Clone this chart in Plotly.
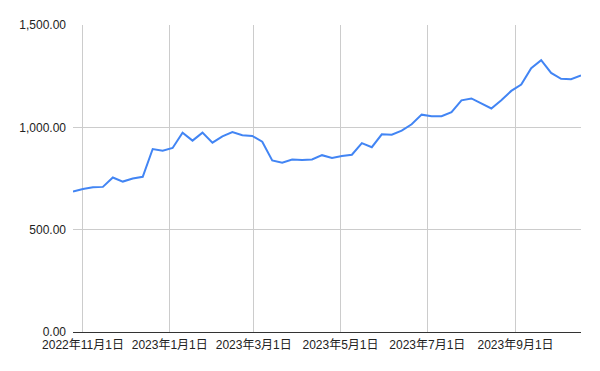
import datetime as dt
import plotly.graph_objects as go

start = dt.date(2022, 10, 25)
values = [686, 699, 707, 709, 755, 735, 750, 758, 894, 886,
          899, 974, 935, 974, 925, 956, 977, 961, 958, 930,
          838, 827, 843, 841, 843, 864, 850, 860, 866, 923,
          903, 966, 964, 984, 1015, 1062, 1054, 1054, 1074, 1132,
          1141, 1116, 1092, 1132, 1178, 1209, 1289, 1328, 1266, 1237,
          1235, 1253]
dates = [start + dt.timedelta(days=7 * i) for i in range(len(values))]

tick_dates = ["2022-11-01", "2023-01-01", "2023-03-01", "2023-05-01", "2023-07-01", "2023-09-01"]
tick_labels = ["2022年11月1日", "2023年1月1日", "2023年3月1日", "2023年5月1日", "2023年7月1日", "2023年9月1日"]
y_ticks = [0, 500, 1000, 1500]

fig = go.Figure(go.Scatter(x=dates, y=values, mode="lines",
                           line=dict(color="#4285F4", width=2)))

font_family = "Liberation Sans, Arial, Noto Sans CJK JP, sans-serif"
fig.update_layout(
    width=600, height=371,
    margin=dict(l=73, r=19, t=25, b=39),
    paper_bgcolor="white", plot_bgcolor="white",
    showlegend=False,
    font=dict(family=font_family, size=12, color="#222222"),
    xaxis=dict(
        range=[dates[0], dates[-1]],
        tickvals=tick_dates, ticktext=tick_labels,
        showgrid=True, gridcolor="#cccccc", gridwidth=1,
        showline=False, zeroline=False, ticks="",
        ticklabelstandoff=4,
        tickfont=dict(family="Liberation Sans, Noto Sans CJK JP, sans-serif", size=12, color="#222222"),
    ),
    yaxis=dict(
        range=[0, 1500],
        tickvals=y_ticks, tickformat=",.2f",
        showgrid=True, gridcolor="#cccccc", gridwidth=1,
        zeroline=True, zerolinecolor="#333333", zerolinewidth=1,
        ticks="", ticklabelstandoff=6,
        tickfont=dict(size=12, color="#222222"),
    ),
)

fig.write_html("out.html")
